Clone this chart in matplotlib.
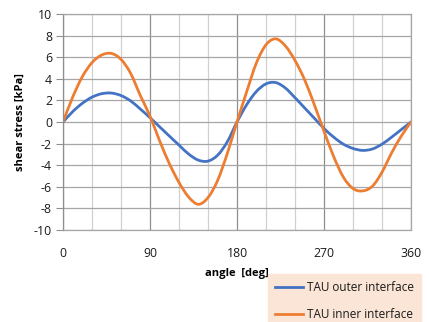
import matplotlib
matplotlib.use("Agg")
import matplotlib.pyplot as plt
import numpy as np
from matplotlib.path import Path
from matplotlib.patches import PathPatch
from matplotlib.lines import Line2D
from matplotlib.ticker import MultipleLocator

# angle in degrees and shear stress in kPa
angle = [0, 10, 20, 30, 40, 50, 60, 70, 80, 90,
         100, 110, 120, 130, 140, 150, 160, 170, 180,
         190, 200, 210, 220, 230, 240, 250, 260, 270,
         280, 290, 300, 310, 320, 330, 340, 350, 360]

tau_outer = [0.0, 0.96, 1.73, 2.30, 2.62, 2.68, 2.45, 1.95, 1.20, 0.40,
             -0.45, -1.30, -2.14, -2.97, -3.53, -3.62, -3.07, -1.83, 0.0,
             1.60, 2.82, 3.53, 3.65, 3.15, 2.25, 1.30, 0.35, -0.60,
             -1.40, -2.05, -2.45, -2.63, -2.50, -2.05, -1.40, -0.70, 0.0]

tau_inner = [0.0, 2.3, 4.2, 5.5, 6.2, 6.35, 5.8, 4.5, 2.45, 0.55,
             -1.75, -3.85, -5.6, -6.95, -7.62, -7.0, -5.4, -2.9, 0.0,
             2.8, 5.45, 7.15, 7.7, 7.05, 5.7, 3.9, 1.6, -0.85,
             -3.2, -5.1, -6.16, -6.38, -5.95, -4.65, -2.85, -1.3, 0.0]

x_ticks = [0, 90, 180, 270, 360]
y_ticks = list(range(-10, 11, 2))

series_labels = ["TAU outer interface", "TAU inner interface"]
series_colors = ["#4472c4", "#ed7d31"]

plt.rcParams["font.family"] = ["Open Sans", "DejaVu Sans"]
plt.rcParams["axes.unicode_minus"] = False


def smoothed_line(ax, xs, ys, color):
    """Draw a smoothed (Bezier) line through the data points."""
    pts = np.column_stack([xs, ys]).astype(float)
    n = len(pts)
    verts = [pts[0]]
    codes = [Path.MOVETO]
    for i in range(n - 1):
        p0 = pts[i - 1] if i > 0 else pts[i]
        p1 = pts[i]
        p2 = pts[i + 1]
        p3 = pts[i + 2] if i + 2 < n else pts[i + 1]
        verts += [p1 + (p2 - p0) / 6.0, p2 - (p3 - p1) / 6.0, p2]
        codes += [Path.CURVE4] * 3
    patch = PathPatch(Path(verts, codes), facecolor="none", edgecolor=color,
                      lw=2.0, capstyle="round", joinstyle="round")
    ax.add_patch(patch)


W, H = 429, 322
fig = plt.figure(figsize=(W / 100, H / 100), dpi=100)
ax = fig.add_axes([63 / W, 1 - 230 / H, (411 - 63) / W, (230 - 14) / H])

ax.set_xlim(0, 360)
ax.set_ylim(-10, 10)
ax.xaxis.set_minor_locator(MultipleLocator(30))
ax.set_yticks(y_ticks)
ax.set_xticks(x_ticks)

ax.grid(True, which="major", axis="y", color="#a6a6a6", lw=0.9)
ax.grid(True, which="major", axis="x", color="#8f8f8f", lw=0.9)
ax.grid(True, which="minor", axis="x", color="#d0d0d0", lw=0.9)
ax.set_axisbelow(True)

for side in ["top", "right", "bottom"]:
    ax.spines[side].set_color("#a6a6a6")
    ax.spines[side].set_linewidth(0.9)
ax.spines["left"].set_color("#8f8f8f")
ax.spines["left"].set_linewidth(0.9)

ax.tick_params(axis="y", which="major", length=5, color="#8f8f8f",
               labelsize=8.8, pad=3, labelcolor="#1a1a1a")
ax.tick_params(axis="x", which="both", length=0, labelsize=8.8, pad=12,
               labelcolor="#1a1a1a")

smoothed_line(ax, angle, tau_outer, series_colors[0])
smoothed_line(ax, angle, tau_inner, series_colors[1])

ax.set_ylabel("shear stress [kPa]", fontsize=8, fontweight="bold", labelpad=6)
ax.set_xlabel("angle  [deg]", fontsize=8, fontweight="bold", labelpad=6)

handles = [Line2D([], [], color=c, lw=2.0) for c in series_colors]
leg = fig.legend(handles, series_labels, loc="upper left",
                 bbox_to_anchor=(268 / W, 1 - 274 / H), frameon=True,
                 fontsize=8.5, handlelength=2.4, handletextpad=0.3,
                 labelspacing=1.2, borderpad=0.6, borderaxespad=0)
frame = leg.get_frame()
frame.set_facecolor("#fbe5d6")
frame.set_edgecolor("#fbe5d6")
frame.set_alpha(1)
frame.set_boxstyle("square", pad=0)
for t in leg.get_texts():
    t.set_color("#1a1a1a")

fig.savefig("out.png", dpi=100)
